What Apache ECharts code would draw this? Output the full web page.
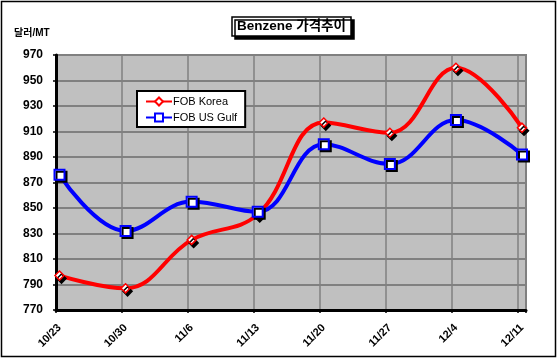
<!DOCTYPE html>
<html>
<head>
<meta charset="utf-8">
<script src="https://cdn.jsdelivr.net/npm/echarts@6/dist/echarts.min.js"></script>
<style>html,body{margin:0;padding:0;background:#fff;}#c{width:559px;height:362px;}</style>
</head>
<body>
<div id="c"></div>
<script>
const categories = ['10/23','10/30','11/6','11/13','11/20','11/27','12/4','12/11'];
const fobKorea = [797, 787, 825, 845, 917, 909, 960, 913];
const fobUSGulf = [876, 832, 855, 847, 900, 884.5, 919, 892];
const yTicks = { min: 770, max: 970, interval: 20 };
const titleText = 'Benzene 가격추이';
const unitText = '달러/MT';

const FONT = "Arial, 'Liberation Sans', 'Noto Sans CJK KR', sans-serif";
const chart = echarts.init(document.getElementById('c'), null, {renderer: 'canvas'});
chart.setOption({
  animation: false,
  backgroundColor: '#fff',
  title: {
    text: titleText,
    left: 232, top: 17,
    padding: [3, 5, 3, 5],
    backgroundColor: '#fff',
    borderColor: '#000', borderWidth: 1.5,
    shadowColor: '#000', shadowOffsetX: 3, shadowOffsetY: 3, shadowBlur: 0,
    textStyle: { fontFamily: FONT, fontWeight: 'bold', fontSize: 13.5, color: '#000' }
  },
  legend: {
    left: 137, top: 91, orient: 'vertical',
    padding: [5, 8, 4, 8],
    itemGap: 5, itemWidth: 26, itemHeight: 10,
    backgroundColor: '#fff', borderColor: '#000', borderWidth: 2,
    textStyle: { fontFamily: FONT, fontSize: 11, color: '#000', padding: [0,0,0,-4] },
    data: ['FOB Korea', 'FOB US Gulf']
  },
  graphic: [
    { type: 'rect', shape: { x: 1.5, y: 1.5, width: 554, height: 355 }, style: { fill: null, stroke: '#000', lineWidth: 1.5 }, z: 100 },
    { type: 'text', left: 14, top: 28, style: { text: unitText, font: 'bold 10px ' + FONT, fill: '#000' } }
  ],
  grid: [
    { left: 56, top: 55, width: 470, height: 255, show: true, backgroundColor: '#c0c0c0', borderColor: '#808080', borderWidth: 2 },
    { left: 59.5, top: 55, width: 462.5, height: 255 }
  ],
  xAxis: [
    { type: 'value', gridIndex: 0, min: 0, max: 7.13, interval: 1,
      axisLine: { show: true, onZero: false, lineStyle: { color: '#000', width: 3 } },
      axisTick: { show: true, length: 3, lineStyle: { color: '#000', width: 1.5 } },
      axisLabel: { show: false },
      splitLine: { show: true, lineStyle: { color: '#808080', width: 1.5 } } },
    { type: 'category', gridIndex: 1, data: categories, boundaryGap: false,
      axisLine: { show: false }, axisTick: { show: false },
      axisLabel: { rotate: 45, margin: 16, fontFamily: FONT, fontWeight: 'bold', fontSize: 11, color: '#000' },
      splitLine: { show: false } }
  ],
  yAxis: [
    { type: 'value', gridIndex: 0, min: yTicks.min, max: yTicks.max, interval: yTicks.interval,
      axisLine: { show: true, lineStyle: { color: '#000', width: 3 } },
      axisTick: { show: true, length: 3, lineStyle: { color: '#000', width: 1.5 } },
      axisLabel: { margin: 13, fontFamily: FONT, fontWeight: 'bold', fontSize: 12, color: '#000' },
      splitLine: { show: true, lineStyle: { color: '#808080', width: 2 } } },
    { type: 'value', gridIndex: 1, min: yTicks.min, max: yTicks.max, interval: yTicks.interval, show: false, splitLine: { show: false } }
  ],
  series: [
    { name: 'FOB Korea', type: 'line', xAxisIndex: 1, yAxisIndex: 1, data: fobKorea, smooth: 0.4,
      symbol: 'diamond', symbolSize: 9, z: 3,
      lineStyle: { color: '#ff0000', width: 4 },
      itemStyle: { color: '#fff', borderColor: '#ff0000', borderWidth: 1.5, shadowColor: '#000', shadowOffsetX: 2, shadowOffsetY: 3, shadowBlur: 0 } },
    { name: 'FOB US Gulf', type: 'line', xAxisIndex: 1, yAxisIndex: 1, data: fobUSGulf, smooth: 0.4,
      symbol: 'rect', symbolSize: 10, z: 4,
      lineStyle: { color: '#0000ff', width: 4 },
      itemStyle: { color: '#fff', borderColor: '#0000ff', borderWidth: 2, shadowColor: '#000', shadowOffsetX: 2, shadowOffsetY: 2, shadowBlur: 0 } }
  ]
});
</script>
</body>
</html>
